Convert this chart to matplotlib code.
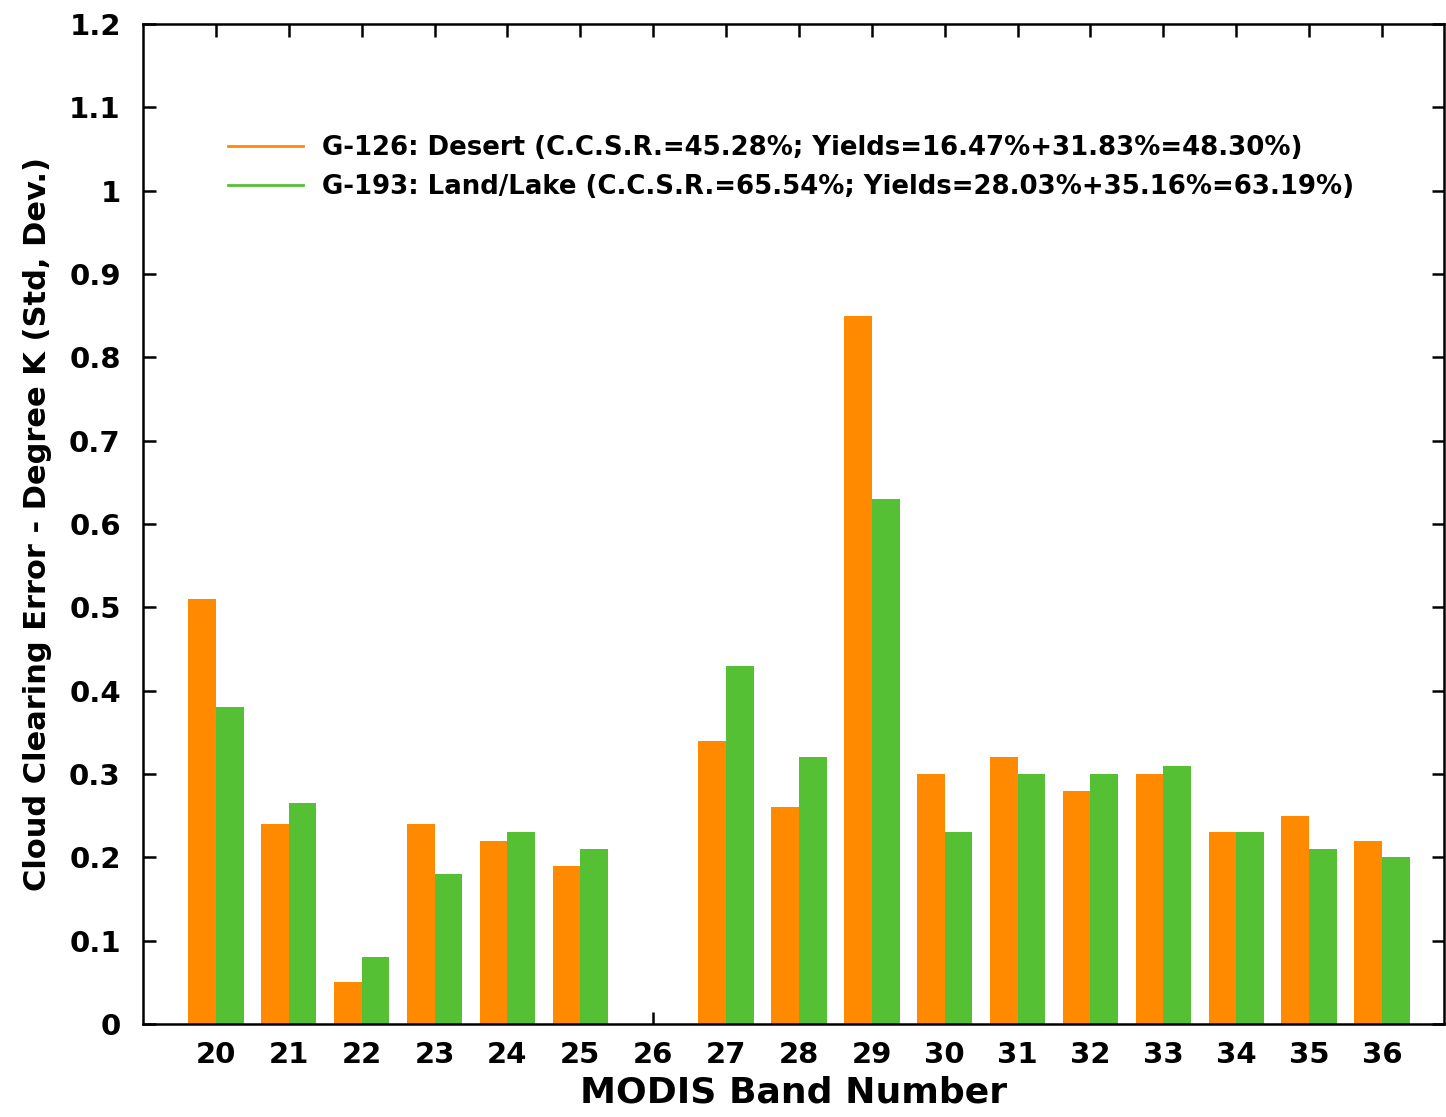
import matplotlib
matplotlib.use("Agg")
import matplotlib.pyplot as plt
import numpy as np

plt.rcParams['font.family'] = ['DejaVu Sans']
plt.rcParams['font.weight'] = 'bold'
plt.rcParams['axes.labelweight'] = 'bold'

bands = [20, 21, 22, 23, 24, 25, 26, 27, 28, 29, 30, 31, 32, 33, 34, 35, 36]
desert = [0.51, 0.24, 0.05, 0.24, 0.22, 0.19, 0.0, 0.34, 0.26, 0.85,
          0.30, 0.32, 0.28, 0.30, 0.23, 0.25, 0.22]
land_lake = [0.38, 0.265, 0.08, 0.18, 0.23, 0.21, 0.0, 0.43, 0.32, 0.63,
             0.23, 0.30, 0.30, 0.31, 0.23, 0.21, 0.20]
labels = ["G-126: Desert (C.C.S.R.=45.28%; Yields=16.47%+31.83%=48.30%)",
          "G-193: Land/Lake (C.C.S.R.=65.54%; Yields=28.03%+35.16%=63.19%)"]

orange = '#ff8a00'
green = '#56c035'
w = 0.38

fig = plt.figure(figsize=(14.46, 11.17), dpi=100)
ax = fig.add_axes([0.0989, 0.0833, 0.8997, 0.8952])

x = np.array(bands)
ax.bar(x - w / 2, desert, width=w, color=orange, linewidth=0)
ax.bar(x + w / 2, land_lake, width=w, color=green, linewidth=0)

# legend entries drawn as lines like gnuplot keys
h1, = ax.plot([], [], color=orange, lw=2)
h2, = ax.plot([], [], color=green, lw=2)
ax.legend([h1, h2], labels, loc='upper left', bbox_to_anchor=(0.047, 0.912),
          frameon=False, fontsize=18.7, handlelength=2.9, handletextpad=0.75,
          labelspacing=0.5)

ax.set_xlim(19, 36.85)
ax.set_ylim(0, 1.2)
ax.set_xticks(bands)
ax.set_yticks(np.arange(0, 1.21, 0.1))
ax.set_yticklabels(['0', '0.1', '0.2', '0.3', '0.4', '0.5', '0.6', '0.7',
                    '0.8', '0.9', '1', '1.1', '1.2'])
ax.set_axisbelow(True)
ax.tick_params(direction='in', length=9, width=1.8, top=True, right=True,
               labelsize=21)
ax.tick_params(axis='y', pad=16)
ax.tick_params(axis='x', pad=12)
for s in ax.spines.values():
    s.set_linewidth(1.8)

ax.set_xlabel("MODIS Band Number", fontsize=26, labelpad=5)
ax.set_ylabel("Cloud Clearing Error - Degree K (Std, Dev.)", fontsize=22,
              labelpad=12)

fig.savefig("out.png", dpi=100)
